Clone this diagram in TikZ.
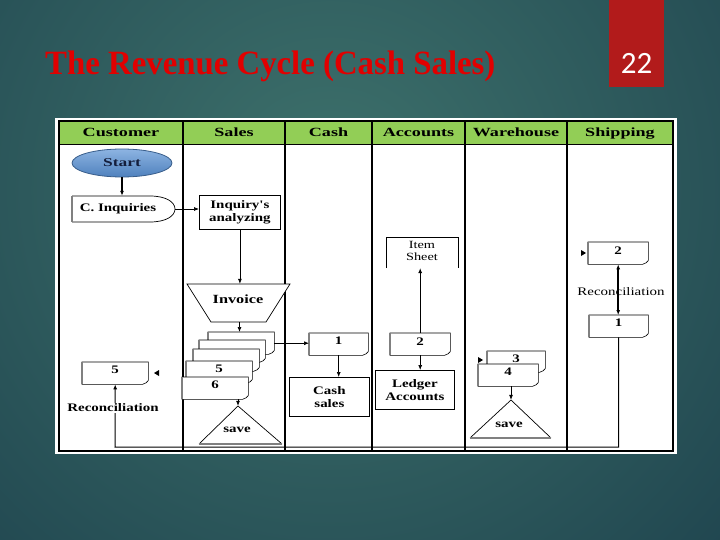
\documentclass[tikz,border=0pt]{standalone}
\usepackage{fontspec}
\setmainfont{Liberation Serif}
\newfontfamily\dfont[FakeStretch=1.3]{Liberation Serif}
\newfontfamily\hfont[FakeStretch=1.45]{Liberation Serif}
\newfontfamily\tfont[FakeStretch=0.965]{Liberation Serif}
\newfontfamily\nfont{Carlito}
\usetikzlibrary{shapes.geometric,arrows.meta}
\definecolor{bgdark}{RGB}{22,55,70}
\definecolor{bglight}{RGB}{62,114,108}
\definecolor{hdrgreen}{RGB}{146,206,86}
\definecolor{slidered}{RGB}{178,27,27}
\definecolor{titlered}{RGB}{225,0,0}
\definecolor{startlight}{RGB}{141,180,226}
\definecolor{startdark}{RGB}{79,129,189}
\definecolor{startedge}{RGB}{56,93,138}
\definecolor{starttext}{RGB}{20,30,60}

% name, x, y (top-left), width, height, label
\newcommand{\docshape}[6]{%
  \node[docnode, minimum width=#4pt, minimum height=#5pt, anchor=north west] (#1) at (#2,#3) {};
  \filldraw[docline] (#1.north west) -- (#1.north east) -- ([yshift=4pt]#1.south east)
     .. controls ([xshift=-1pt,yshift=2pt]#1.south east) and ([xshift=-3pt,yshift=1pt]#1.south east) .. ([xshift=-6pt]#1.south east)
     -- (#1.south west) -- cycle;
  \draw[gray, line width=1.2pt] (#1.north west) -- (#1.south west);
  \node[lbl] at ([yshift=3pt]#1.center) {#6};
}

\begin{document}
\begin{tikzpicture}[x=1pt,y=-1pt,
  arr/.style={-{Latex[length=5pt,width=4pt]}, line width=0.7pt},
  dblarr/.style={{Latex[length=5pt,width=4pt]}-{Latex[length=5pt,width=4pt]}, line width=1.6pt},
  lbl/.style={font=\dfont\bfseries\fontsize{11.5}{13}\selectfont, align=center, inner sep=0},
  hdr/.style={font=\hfont\bfseries\fontsize{12.5}{14}\selectfont, inner sep=0, anchor=base},
  procbox/.style={draw, line width=0.8pt, fill=white, align=center, inner sep=0, anchor=north west,
     font=\dfont\bfseries\fontsize{11.5}{13}\selectfont},
  docnode/.style={inner sep=0, draw=none},
  docline/.style={draw=black, fill=white, line width=0.6pt},
  anchorbox/.style={inner sep=0, draw=none}
]
\useasboundingbox (0,0) rectangle (720,540);
% background
\begin{scope}
  \clip (0,0) rectangle (720,540);
  \shade[inner color=bglight, outer color=bgdark] (330,190) circle (720);
\end{scope}
% page number tab
\fill[slidered] (609,0) rectangle (664,87);
\node[anchor=base, text=white, inner sep=0, font=\nfont\fontsize{31}{34}\selectfont] (pgnum) at (636.5,74) {22};
% title
\node[anchor=base west, inner sep=0, text=titlered, font=\tfont\bfseries\fontsize{34}{40}\selectfont] (title) at (45,75) {The Revenue Cycle (Cash Sales)};

% table
\fill[white] (55,118) rectangle (677,454);
\fill[hdrgreen] (59,121) rectangle (673,145);
\draw[line width=1pt] (59,145) -- (673,145);
\foreach \xx in {183,285,372,465,567} \draw[line width=2pt] (\xx,121) -- (\xx,451);
\draw[line width=2pt] (59,121) rectangle (673,451);

\node[hdr] (hcust) at (121,137) {Customer};
\node[hdr] (hsales) at (234,137) {Sales};
\node[hdr] (hcash) at (328.5,137) {Cash};
\node[hdr] (hacc) at (418.5,137) {Accounts};
\node[hdr] (hware) at (516,137) {Warehouse};
\node[hdr] (hship) at (620,137) {Shipping};

% Customer lane
\node[ellipse, minimum width=100pt, minimum height=28pt, top color=startlight, bottom color=startdark,
  draw=startedge, line width=0.8pt, text=starttext, inner sep=0,
  font=\hfont\bfseries\fontsize{12}{14}\selectfont] (start) at (122,163) {Start};
\draw[line width=0.7pt, fill=white] (72,196) -- (150,196) .. controls (166,196) and (175,202) .. (175,209)
   .. controls (175,216) and (166,222) .. (150,222) -- (72,222);
\draw[gray, line width=1.2pt] (72,196) -- (72,222);
\node[anchorbox, minimum width=103pt, minimum height=26pt] (cinq) at (123.5,209) {};
\node[lbl] (cinqtext) at (118,209) {C. Inquiries};
\draw[arr, line width=1.6pt] (start.south) -- (start.south |- cinq.north);

\docshape{c5}{82}{362}{66}{22}{5}
\fill (159,370) -- (154,373) -- (159,376) -- cycle;

% Sales lane
\node[procbox, minimum width=81pt, minimum height=34pt] (inq) at (199,195) {Inquiry's\\analyzing};
\draw[arr] (cinq.east) -- (cinq.east -| inq.west);

\draw[line width=0.7pt, fill=white] (187,284) -- (290,284) -- (266,322) -- (211,322) -- cycle;
\node[anchorbox, minimum width=80pt, minimum height=38pt] (invoice) at (239.5,303) {};
\node[lbl, font=\dfont\bfseries\fontsize{12.5}{14}\selectfont] (invtext) at (238,299) {Invoice};
\draw[arr] (inq.south) -- (inq.south |- invoice.north);

\docshape{d1}{208}{332}{66}{22}{}
\docshape{d2}{199}{340}{66}{22}{}
\docshape{d3}{193}{349}{66}{22}{}
\docshape{d4}{186}{361}{66}{22}{5}
\docshape{d5}{182}{377}{66}{22}{6}
\draw[arr] (invoice.south) -- (invoice.south |- d1.north);

\draw[line width=0.7pt] (199,444) -- (238,406) -- (282,444);
\draw[gray, line width=1.5pt] (199,444) -- (282,444);
\node[anchorbox, minimum width=80pt, minimum height=38pt] (save1) at (238,425) {};
\node[lbl] (save1text) at (237,430) {save};
\draw[arr] (save1.north |- d5.south) -- (save1.north);

% Cash lane
\docshape{c1}{309}{333}{59}{22}{1}
\draw[arr] (d1.east) -- (d1.east -| c1.west);
\node[procbox, minimum width=80pt, minimum height=39pt] (cs) at (289,377) {Cash\\sales};
\draw[arr] (c1.south) -- (c1.south |- cs.north);

% Accounts lane
\draw[line width=0.7pt] (386,268) -- (386,237) -- (458,237) -- (458,268);
\node[anchorbox, minimum width=72pt, minimum height=31pt] (item) at (422,252.5) {};
\node[font=\dfont\fontsize{11}{12.5}\selectfont, align=center, inner sep=0] (itemtext) at (422,251) {Item\\Sheet};
\docshape{a2}{390}{333}{60}{22}{2}
\draw[arr] (a2.north) -- (a2.north |- item.south);
\node[procbox, minimum width=79pt, minimum height=39pt] (ledger) at (375,370) {Ledger\\Accounts};
\draw[arr] (a2.south) -- (a2.south |- ledger.north);

% Warehouse lane
\docshape{w3}{487}{351}{58}{21}{3}
\docshape{w4}{478}{364}{60}{22}{4}
\fill (478,357) -- (483,360) -- (478,363) -- cycle;
\draw[line width=0.7pt] (470,438) -- (511,400) -- (551,438);
\draw[gray, line width=1.2pt] (470,438) -- (551,438);
\node[anchorbox, minimum width=80pt, minimum height=38pt] (save2) at (511,419) {};
\node[lbl] (save2text) at (509,425) {save};
\draw[arr] (save2.north |- w4.south) -- (save2.north);

% Shipping lane
\docshape{s2}{588}{242}{60}{22}{2}
\fill (581,250) -- (586,253) -- (581,256) -- cycle;
\docshape{s1}{589}{315}{59}{22}{1}
\node[font=\dfont\fontsize{11.5}{13}\selectfont, fill=white, inner sep=1pt] (rec2) at (621,292) {Reconciliation};
\draw[dblarr] (s2.south) -- (s2.south |- s1.north);

% return flow
\coordinate (bl) at (115,447);
\draw[arr, line width=1pt] (s1.south) |- (bl) -- (c5.south);
\node[lbl, fill=white, inner sep=1pt] (rec1) at (113,408) {Reconciliation};
\end{tikzpicture}
\end{document}
